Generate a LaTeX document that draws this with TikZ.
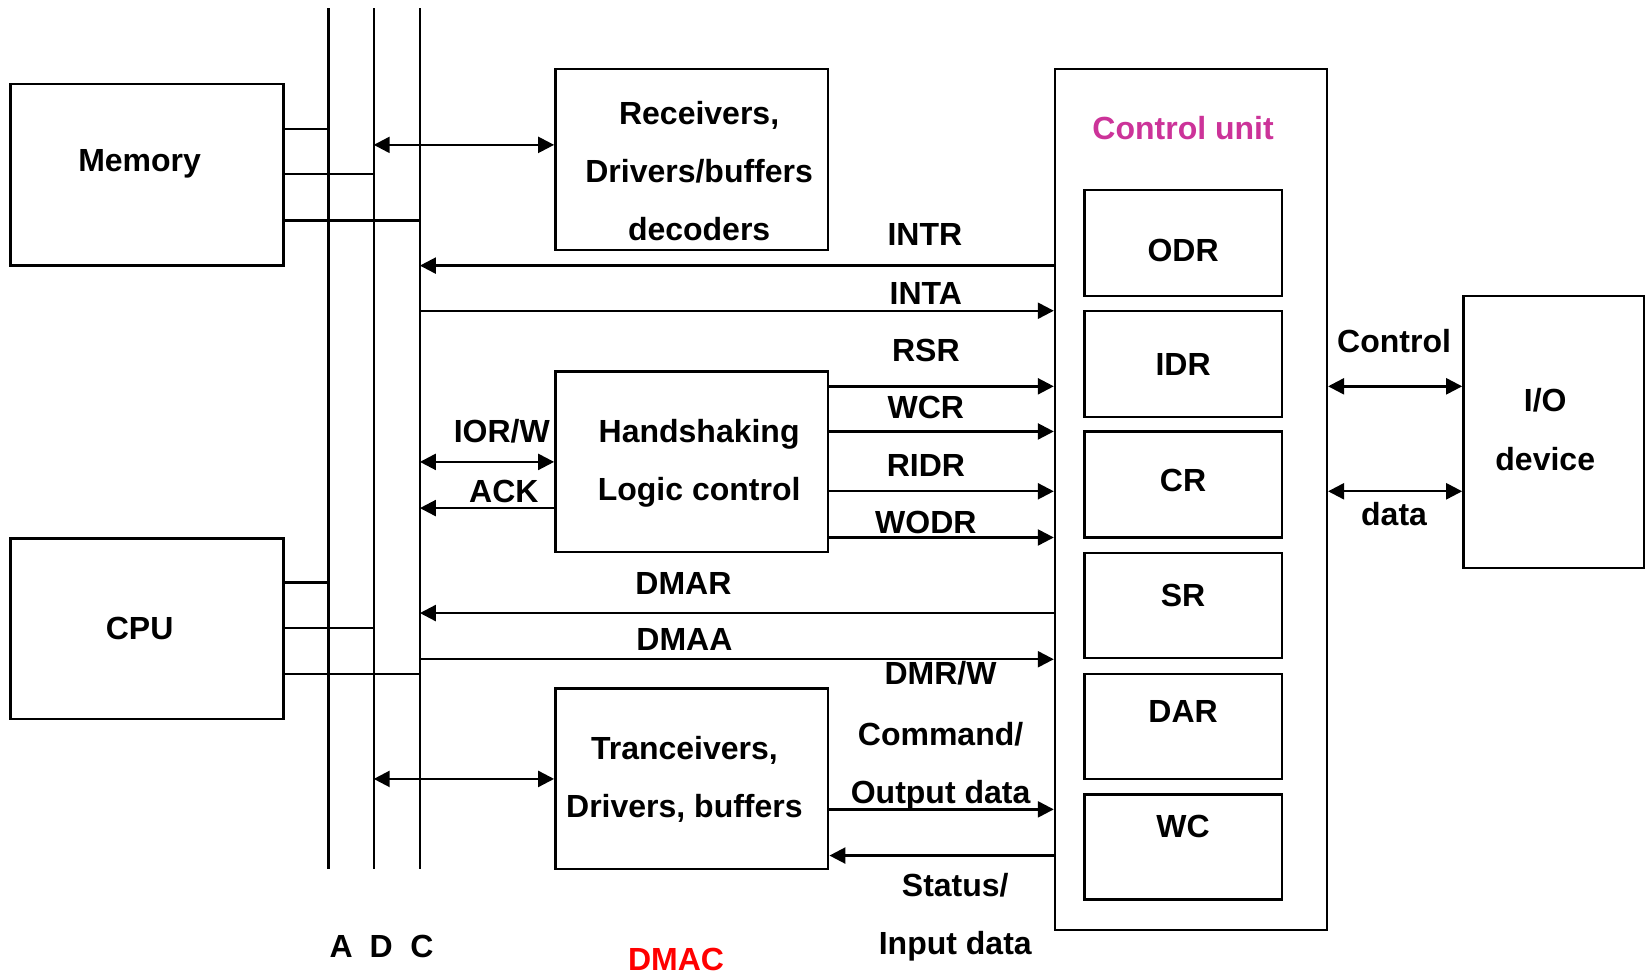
\documentclass[tikz,border=0pt]{standalone}
\usepackage{fontspec}
\setmainfont{Liberation Sans}
\usetikzlibrary{arrows.meta,fit}
\definecolor{cuMagenta}{RGB}{204,51,153}
\definecolor{dmacRed}{RGB}{255,0,0}
\begin{document}
\begin{tikzpicture}[x=0.5249pt,y=-0.5249pt, line width=1.2pt,
  font=\fontsize{16}{19}\selectfont\bfseries,
  box/.style={draw, rectangle, inner sep=0pt},
  lbl/.style={inner sep=0pt, text height=11.5pt, text depth=0pt, anchor=center},
  tip/.style={-{Triangle[length=8pt,width=8pt]}},
  dtip/.style={{Triangle[length=8pt,width=8pt]}-{Triangle[length=8pt,width=8pt]}}]
\useasboundingbox (0,0) rectangle (1568,930);

% blocks
\node[box, fit={(10,80) (270,253)}] (mem) {};
\node[box, fit={(10,513) (270,685)}] (cpu) {};
\node[box, fit={(529,66) (789,238)}] (rec) {};
\node[box, fit={(529,354) (789,526)}] (hand) {};
\node[box, fit={(529,656) (789,828)}] (tran) {};
\node[box, fit={(1005,66) (1264,886)}] (cu) {};
\node[box, fit={(1033,181) (1221,282)}] (odr) {};
\node[box, fit={(1033,296) (1221,397)}] (idr) {};
\node[box, fit={(1033,411) (1221,512)}] (cr) {};
\node[box, fit={(1033,527) (1221,627)}] (sr) {};
\node[box, fit={(1033,642) (1221,742)}] (dar) {};
\node[box, fit={(1033,757) (1221,857)}] (wc) {};
\node[box, fit={(1394,282) (1566,541)}] (io) {};

% block texts
\node[lbl] (tmem) at (133,152) {Memory};
\node[lbl] (tcpu) at (133,598) {CPU};
\node[lbl] (trec1) at (666,108) {Receivers,};
\node[lbl] (trec2) at (666,163) {Drivers/buffers};
\node[lbl] (trec3) at (666,218) {decoders};
\node[lbl] (thand1) at (666,411) {Handshaking};
\node[lbl] (thand2) at (666,466) {Logic control};
\node[lbl] (ttran1) at (652,713) {Tranceivers,};
\node[lbl] (ttran2) at (652,768) {Drivers, buffers};
\node[lbl, text=cuMagenta] (tcu) at (1127,122) {Control unit};
\node[lbl] (todr) at (1127,238) {ODR};
\node[lbl] (tidr) at (1127,347) {IDR};
\node[lbl] (tcr) at (1127,457) {CR};
\node[lbl] (tsr) at (1127,567) {SR};
\node[lbl] (tdar) at (1127,677) {DAR};
\node[lbl] (twc) at (1127,787) {WC};
\node[lbl] (tio1) at (1472,381) {I/O};
\node[lbl] (tio2) at (1472,437) {device};

% system bus: address, data, control
\coordinate (At) at (313,8);  \coordinate (Ab) at (313,828);
\coordinate (Dt) at (356,8);  \coordinate (Db) at (356,828);
\coordinate (Ct) at (400,8);  \coordinate (Cb) at (400,828);
\draw (At) -- (Ab);
\draw (Dt) -- (Db);
\draw (Ct) -- (Cb);
\node[lbl] (la) at (325,901) {A};
\node[lbl] (ld) at (363,901) {D};
\node[lbl] (lc) at (402,901) {C};

% horizontal levels
\foreach \n/\y in {m1/123, m2/166, m3/210, c1/555, c2/598, c3/642,
  hrec/138, hintr/253, hinta/296, hrsr/368, hwcr/411, hridr/468, hwodr/512,
  hior/440, hack/484, hdmar/584, hdmaa/628, htran/742, hout/771, hin/815}
  {\coordinate (\n) at (0,\y);}

% memory and CPU taps on the bus
\draw (mem.east |- m1) -- (At |- m1);
\draw (mem.east |- m2) -- (Dt |- m2);
\draw (mem.east |- m3) -- (Ct |- m3);
\draw (cpu.east |- c1) -- (At |- c1);
\draw (cpu.east |- c2) -- (Dt |- c2);
\draw (cpu.east |- c3) -- (Ct |- c3);

% bus to DMAC blocks
\draw[dtip] (Dt |- hrec) -- (rec.west |- hrec);
\draw[dtip] (Ct |- hior) -- (hand.west |- hior);
\draw[tip] (hand.west |- hack) -- (Ct |- hack);
\draw[dtip] (Dt |- htran) -- (tran.west |- htran);
\node[lbl] (lior) at (478,411) {IOR/W};
\node[lbl] (lack) at (480,468) {ACK};

% control unit and bus
\draw[tip] (cu.west |- hintr) -- (Ct |- hintr);
\draw[tip] (Ct |- hinta) -- (cu.west |- hinta);
\draw[tip] (cu.west |- hdmar) -- (Ct |- hdmar);
\draw[tip] (Ct |- hdmaa) -- (cu.west |- hdmaa);
\node[lbl] (lintr) at (881,223) {INTR};
\node[lbl] (linta) at (882,279) {INTA};
\node[lbl] (ldmar) at (651,555) {DMAR};
\node[lbl] (ldmaa) at (652,609) {DMAA};

% handshaking logic to control unit
\draw[tip] (hand.east |- hrsr) -- (cu.west |- hrsr);
\draw[tip] (hand.east |- hwcr) -- (cu.west |- hwcr);
\draw[tip] (hand.east |- hridr) -- (cu.west |- hridr);
\draw[tip] (hand.east |- hwodr) -- (cu.west |- hwodr);
\node[lbl] (lrsr) at (882,333) {RSR};
\node[lbl] (lwcr) at (882,388) {WCR};
\node[lbl] (lridr) at (882,443) {RIDR};
\node[lbl] (lwodr) at (882,497) {WODR};

% transceivers and control unit
\draw[tip] (tran.east |- hout) -- (cu.west |- hout);
\draw[tip] (cu.west |- hin) -- (tran.east |- hin);
\node[lbl] (ldmrw) at (896,641) {DMR/W};
\node[lbl] (lcmd) at (896,699) {Command/};
\node[lbl] (lout) at (896,754) {Output data};
\node[lbl] (lstat) at (910,843) {Status/};
\node[lbl] (lin) at (910,898) {Input data};

% control unit and I/O device
\draw[dtip] (cu.east |- hrsr) -- (io.west |- hrsr);
\draw[dtip] (cu.east |- hridr) -- (io.west |- hridr);
\node[lbl] (lctl) at (1328,325) {Control};
\node[lbl] (ldata) at (1328,490) {data};

\node[lbl, text=dmacRed] (ldmac) at (644,914) {DMAC};
\end{tikzpicture}
\end{document}
